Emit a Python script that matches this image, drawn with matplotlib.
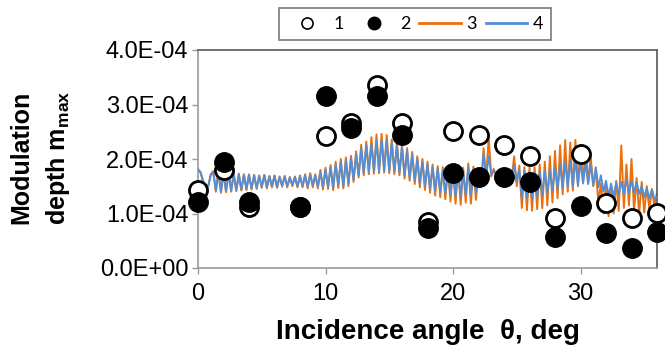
import numpy as np
import matplotlib.pyplot as plt
from matplotlib.lines import Line2D

# measured modulation depth (units of 1e-4) at the sampled incidence angles
angles_meas = [0, 2, 4, 8, 10, 12, 14, 16, 18, 20, 22, 24, 26, 28, 30, 32, 34, 36]
series1 = [1.43, 1.80, 1.12, 1.12, 2.42, 2.66, 3.36, 2.66, 0.84, 2.51, 2.44, 2.26, 2.06, 0.92, 2.09, 1.19, 0.92, 1.01]
series2 = [1.21, 1.94, 1.21, 1.12, 3.16, 2.57, 3.16, 2.44, 0.73, 1.74, 1.67, 1.67, 1.58, 0.57, 1.14, 0.64, 0.37, 0.66]

# calculated curves, 0.2 deg step from 0 to 36 deg (units of 1e-4)
angle_step = 0.2
series3 = [
    1.82, 1.75, 1.58, 1.43, 1.50, 1.72, 1.78, 1.40, 1.77, 1.38,
    1.76, 1.39, 1.75, 1.40, 1.74, 1.41, 1.73, 1.42, 1.72, 1.43,
    1.72, 1.44, 1.71, 1.45, 1.70, 1.47, 1.71, 1.46, 1.69, 1.48,
    1.70, 1.47, 1.68, 1.49, 1.69, 1.48, 1.67, 1.50, 1.68, 1.48,
    1.70, 1.48, 1.72, 1.46, 1.74, 1.48, 1.72, 1.46, 1.80, 1.44,
    1.84, 1.45, 1.89, 1.43, 1.95, 1.47, 2.00, 1.46, 2.03, 1.50,
    2.06, 1.58, 2.14, 1.66, 2.26, 1.70, 2.32, 1.72, 2.40, 1.73,
    2.45, 1.74, 2.46, 1.75, 2.44, 1.74, 2.36, 1.72, 2.30, 1.70,
    2.27, 1.64, 2.20, 1.60, 2.13, 1.54, 2.05, 1.48, 2.00, 1.43,
    1.95, 1.38, 1.90, 1.33, 1.87, 1.30, 1.85, 1.26, 1.83, 1.22,
    1.86, 1.18, 1.88, 1.16, 1.84, 1.20, 1.92, 1.18, 1.86, 1.25,
    1.80, 1.50, 2.20, 1.62, 2.40, 1.68, 1.82, 1.66, 1.78, 1.64,
    1.78, 1.64, 1.80, 1.66, 2.05, 1.50, 1.88, 1.10, 1.85, 1.06,
    1.84, 1.05, 1.85, 1.08, 1.90, 1.10, 1.95, 1.15, 2.05, 1.20,
    2.15, 1.28, 2.25, 1.35, 2.35, 1.40, 2.30, 1.42, 2.35, 1.50,
    2.25, 1.58, 2.20, 1.56, 2.05, 1.50, 1.80, 1.20, 1.55, 1.00,
    1.50, 0.95, 1.45, 1.00, 1.60, 1.05, 2.25, 1.10, 1.90, 1.15,
    2.00, 1.05, 1.65, 1.00, 1.58, 1.02, 1.50, 1.08, 1.45, 1.12,
    1.40,
]
series4 = [
    1.80, 1.76, 1.60, 1.45, 1.50, 1.70, 1.76, 1.42, 1.75, 1.40,
    1.74, 1.41, 1.73, 1.42, 1.73, 1.43, 1.72, 1.44, 1.71, 1.45,
    1.71, 1.46, 1.70, 1.47, 1.69, 1.49, 1.70, 1.48, 1.68, 1.50,
    1.69, 1.49, 1.67, 1.51, 1.68, 1.50, 1.66, 1.52, 1.67, 1.50,
    1.68, 1.51, 1.70, 1.49, 1.72, 1.52, 1.69, 1.50, 1.76, 1.48,
    1.80, 1.50, 1.85, 1.47, 1.90, 1.52, 1.95, 1.50, 1.98, 1.55,
    2.02, 1.62, 2.08, 1.70, 2.20, 1.74, 2.25, 1.76, 2.28, 1.77,
    2.33, 1.78, 2.35, 1.79, 2.34, 1.78, 2.30, 1.77, 2.25, 1.75,
    2.22, 1.70, 2.15, 1.66, 2.08, 1.60, 2.00, 1.55, 1.95, 1.50,
    1.90, 1.46, 1.85, 1.42, 1.82, 1.40, 1.80, 1.37, 1.78, 1.35,
    1.80, 1.32, 1.82, 1.30, 1.78, 1.35, 1.85, 1.33, 1.80, 1.38,
    1.75, 1.55, 2.10, 1.70, 2.05, 1.72, 1.78, 1.70, 1.76, 1.69,
    1.75, 1.68, 1.74, 1.70, 1.88, 1.60, 1.80, 1.30, 1.78, 1.28,
    1.76, 1.26, 1.74, 1.30, 1.76, 1.35, 1.78, 1.38, 1.80, 1.42,
    1.85, 1.45, 1.90, 1.47, 1.95, 1.50, 1.98, 1.50, 2.00, 1.52,
    1.96, 1.55, 1.94, 1.54, 1.90, 1.52, 1.85, 1.48, 1.70, 1.40,
    1.60, 1.32, 1.55, 1.30, 1.56, 1.34, 1.58, 1.36, 1.62, 1.38,
    1.60, 1.38, 1.58, 1.36, 1.50, 1.30, 1.46, 1.27, 1.44, 1.26,
    1.30,
]

y_ticks = [0, 1e-4, 2e-4, 3e-4, 4e-4]
y_tick_labels = ['0.0E+00', '1.0E-04', '2.0E-04', '3.0E-04', '4.0E-04']
x_ticks = [0, 10, 20, 30]
legend_labels = ['1', '2', '3', '4']

ORANGE = '#E8700E'
BLUE = '#558ED5'
AXIS_GREY = '#9A9A9A'
FRAME_GREY = '#595959'

plt.rcParams['font.family'] = ['Liberation Sans', 'DejaVu Sans']

scale = 1e-4
angles_calc = np.arange(len(series3)) * angle_step

fig = plt.figure(figsize=(6.65, 3.45), dpi=100)
ax = fig.add_axes([198 / 665, 1 - 268 / 345, 459 / 665, 218 / 345])

ax.plot(angles_calc, np.array(series3) * scale, color=ORANGE, lw=1.4, zorder=2)
ax.plot(angles_calc, np.array(series4) * scale, color=BLUE, lw=1.4, zorder=3)
ax.plot(angles_meas, np.array(series1) * scale, 'o', ms=13, mfc='white', mec='black',
        mew=2.0, clip_on=False, zorder=4)
ax.plot(angles_meas, np.array(series2) * scale, 'o', ms=14, mfc='black', mec='black',
        clip_on=False, zorder=5)

ax.set_xlim(0, 36)
ax.set_ylim(0, 4e-4)
ax.set_xticks(x_ticks)
ax.set_yticks(y_ticks)
ax.set_yticklabels(y_tick_labels)
ax.tick_params(axis='both', direction='out', length=4, width=1, color=AXIS_GREY,
               labelsize=17, pad=3)
ax.tick_params(axis='x', pad=7)

for side in ['left', 'bottom']:
    ax.spines[side].set_color(AXIS_GREY)
    ax.spines[side].set_linewidth(1.2)
for side in ['top', 'right']:
    ax.spines[side].set_color(FRAME_GREY)
    ax.spines[side].set_linewidth(1.2)

ax.set_xlabel('Incidence angle  \u03b8, deg', fontsize=20, fontweight='bold', labelpad=10)

fig.text(21 / 665, 1 - 157 / 345, 'Modulation', rotation=90, fontsize=18,
         fontweight='bold', ha='center', va='center')
fig.text(58 / 665, 1 - 158 / 345, r'depth m$_{\mathregular{max}}$', rotation=90,
         fontsize=18, fontweight='bold', ha='center', va='center')

handles = [
    Line2D([], [], ls='none', marker='o', ms=8, mfc='white', mec='black', mew=1.2),
    Line2D([], [], ls='none', marker='o', ms=9, mfc='black', mec='black'),
    Line2D([], [], color=ORANGE, lw=2),
    Line2D([], [], color=BLUE, lw=2),
]
leg = fig.legend(handles, legend_labels, loc='center', bbox_to_anchor=(415 / 665, 1 - 24 / 345),
                 ncol=4, prop={'family': 'Lato', 'size': 13}, frameon=True, fancybox=False,
                 handlelength=2.3, handletextpad=0.3, columnspacing=0.5, borderpad=0.45)
leg.get_frame().set_edgecolor(FRAME_GREY)
leg.get_frame().set_linewidth(1.2)

fig.savefig('out.png', dpi=100)
